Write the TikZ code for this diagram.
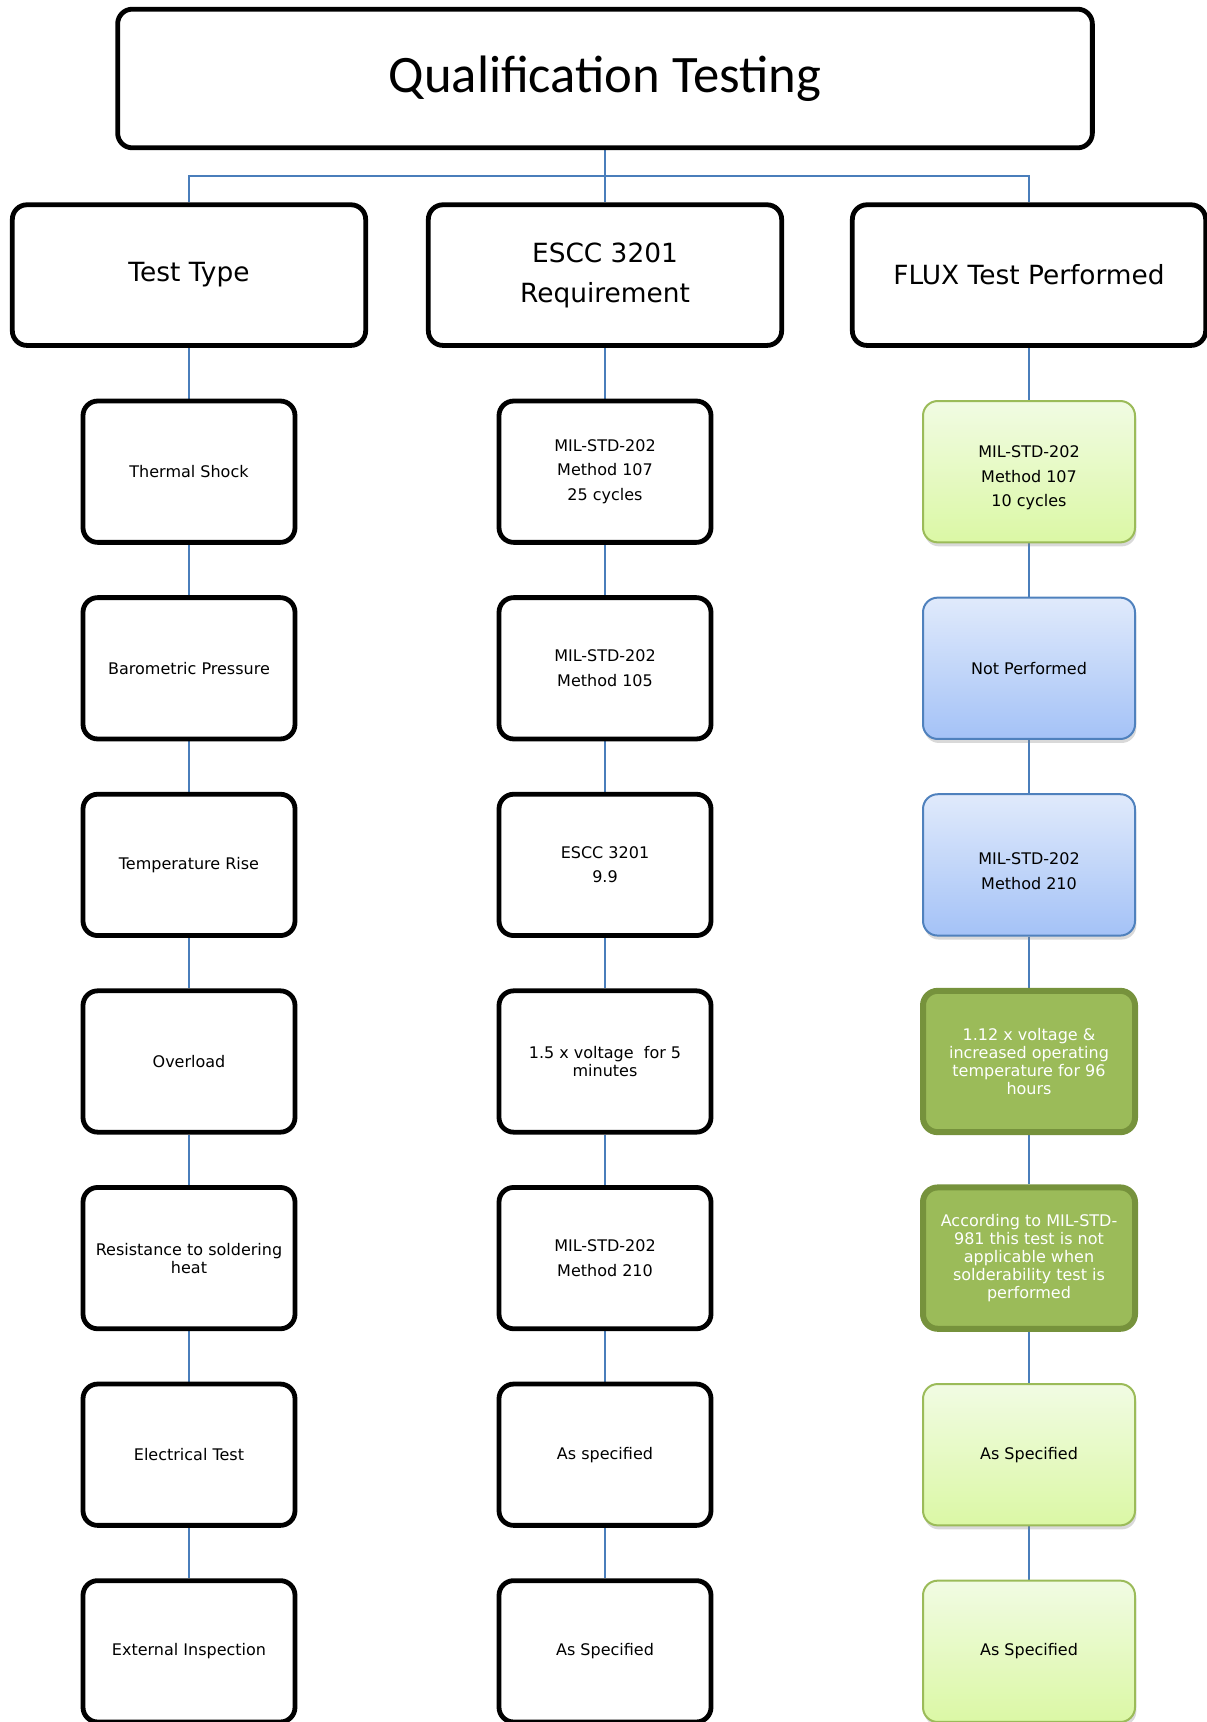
\documentclass[tikz,border=0pt]{standalone}
\usepackage{fontspec}
\setmainfont{DejaVu Sans}
\newfontfamily\calibrifont{Carlito}
\usetikzlibrary{positioning, shadows, backgrounds}

\definecolor{linkblue}{HTML}{4A7EBB}
\definecolor{lgtop}{HTML}{F1FBE3}
\definecolor{lgbot}{HTML}{DBF8A5}
\definecolor{lgline}{HTML}{9BBB59}
\definecolor{bltop}{HTML}{E0EAFB}
\definecolor{blbot}{HTML}{A4C2F7}
\definecolor{blline}{HTML}{4F81BD}
\definecolor{dgfill}{HTML}{9BBB59}
\definecolor{dgline}{HTML}{76923C}

\tikzset{
  box/.style={draw, line width=3.6pt, rounded corners=11pt, align=center, fill=white},
  titlebox/.style={box, minimum width=731pt, minimum height=104pt,
    font=\calibrifont\fontsize{39.5pt}{47pt}\selectfont},
  head/.style={box, minimum width=265pt, minimum height=105.5pt,
    font=\fontsize{19.8pt}{30pt}\selectfont},
  item/.style={box, minimum width=159pt, minimum height=106pt,
    font=\fontsize{12pt}{18.4pt}\selectfont},
  snug/.style={font=\fontsize{12pt}{13.4pt}\selectfont},
  paleg/.style={item, line width=1.5pt, draw=lgline, top color=lgtop, bottom color=lgbot,
    drop shadow={opacity=0.3, shadow xshift=1pt, shadow yshift=-3pt}},
  paleb/.style={item, line width=1.5pt, draw=blline, top color=bltop, bottom color=blbot,
    drop shadow={opacity=0.3, shadow xshift=1pt, shadow yshift=-3pt}},
  darkg/.style={item, snug, line width=4.5pt, draw=dgline, fill=dgfill, text=white!95!lgtop},
  link/.style={draw=linkblue, line width=1.5pt}
}

\begin{document}
\begin{tikzpicture}[x=0.75pt, y=-0.75pt, node distance=147.45pt, on grid]
		\useasboundingbox (0,0) rectangle (1206,1722);
		
		% top
		\node[titlebox] (title) at (605,78.5) {Qualification Testing};
		\coordinate (bar) at (605,176);
		
		% headers
		\node[head, below = of title] (escc) {ESCC 3201\\Requirement};
		\node[head, left = 312pt of escc] (type) {Test Type};
		\node[head, right = 318pt of escc] (flux) {FLUX Test Performed};
		
		% test type
		\node[item, below = of type] (t1) {Thermal Shock};
		\node[item, below = of t1] (t2) {Barometric Pressure};
		\node[item, below = of t2] (t3) {Temperature Rise};
		\node[item, below = of t3] (t4) {Overload};
		\node[item, snug, below = of t4] (t5) {Resistance to soldering\\heat};
		\node[item, below = of t5] (t6) {Electrical Test};
		\node[item, below = of t6] (t7) {External Inspection};
		
		% requirement
		\node[item, below = of escc] (r1) {MIL-STD-202\\Method 107\\25 cycles};
		\node[item, below = of r1] (r2) {MIL-STD-202\\Method 105};
		\node[item, below = of r2] (r3) {ESCC 3201\\9.9};
		\node[item, snug, below = of r3] (r4) {1.5 x voltage\ \ for 5\\minutes};
		\node[item, below = of r4] (r5) {MIL-STD-202\\Method 210};
		\node[item, below = of r5] (r6) {As specified};
		\node[item, below = of r6] (r7) {As Specified};
		
		% performed
		\node[paleg, below = of flux] (f1) {\mbox{}\\MIL-STD-202\\Method 107\\10 cycles};
		\node[paleb, below = of f1] (f2) {Not Performed};
		\node[paleb, below = of f2] (f3) {\mbox{}\\MIL-STD-202\\Method 210};
		\node[darkg, below = of f3] (f4) {1.12 x voltage \&\\increased operating\\temperature for 96\\hours};
		\node[darkg, below = of f4] (f5) {According to MIL-STD-\\981 this test is not\\applicable when\\solderability test is\\performed};
		\node[paleg, below = of f5] (f6) {As Specified};
		\node[paleg, below = of f6] (f7) {As Specified};
		
		\begin{scope}[on background layer]
		% top
		\draw[link] (title.south) -- (escc.north);
		\draw[link] (type.north) |- (bar) -| (flux.north);
		
		% columns
		\path[link] (type) edge (t1)
		(t1) edge (t2)
		(t2) edge (t3)
		(t3) edge (t4)
		(t4) edge (t5)
		(t5) edge (t6)
		(t6) edge (t7);
		\path[link] (escc) edge (r1)
		(r1) edge (r2)
		(r2) edge (r3)
		(r3) edge (r4)
		(r4) edge (r5)
		(r5) edge (r6)
		(r6) edge (r7);
		\path[link] (flux) edge (f1)
		(f1) edge (f2)
		(f2) edge (f3)
		(f3) edge (f4)
		(f4) edge (f5)
		(f5) edge (f6)
		(f6) edge (f7);
		\end{scope}
\end{tikzpicture}
\end{document}
